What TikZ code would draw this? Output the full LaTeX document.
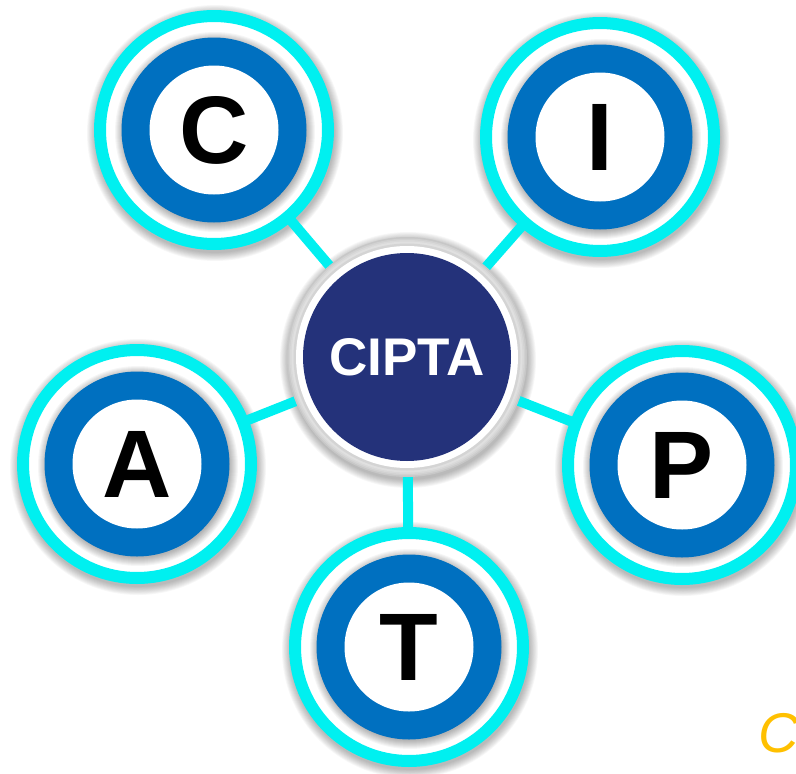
\documentclass[tikz,border=0pt]{standalone}
\usepackage{fontspec}
\setmainfont{Liberation Sans}
\definecolor{ringcyan}{RGB}{0,240,240}
\definecolor{discblue}{RGB}{0,112,192}
\definecolor{hubnavy}{RGB}{36,50,122}
\definecolor{cornergold}{RGB}{255,192,0}
\pgfdeclarelayer{shadowlayer}
\pgfdeclarelayer{lineslayer}
\pgfdeclarelayer{discslayer}
\pgfsetlayers{shadowlayer,lineslayer,discslayer,main}
\tikzset{
  letter/.style={circle, minimum size=240pt, inner sep=0pt, text=black,
    font=\bfseries\fontsize{96}{96}\selectfont},
  hubnode/.style={circle, minimum size=240pt, inner sep=0pt, text=white,
    font=\bfseries\fontsize{53}{53}\selectfont},
  conn/.style={draw=ringcyan, line width=10pt},
  softshade/.style={fill=black, opacity=0.03},
}
\newcommand\satnode[4]{%
  \node[letter] (#1) at (#2,#3) {#4};
  \begin{pgfonlayer}{shadowlayer}
    \foreach \k in {1,...,10}
      \fill[softshade] ([xshift=1pt,yshift=-3pt]#1.center) circle[radius={(119+\k*0.9)*1pt}];
  \end{pgfonlayer}
  \begin{pgfonlayer}{discslayer}
    \fill[white] (#1.center) circle[radius=114pt];
    \draw[ringcyan, line width=12pt] (#1.center) circle[radius=114pt];
    \foreach \k in {1,...,9}
      \fill[black, opacity=0.035] ([xshift=1pt,yshift=-2pt]#1.center) circle[radius={(91+\k*1.0)*1pt}];
    \fill[discblue] (#1.center) circle[radius=92.5pt];
    \fill[white] (#1.center) circle[radius=64.5pt];
  \end{pgfonlayer}
}
\begin{document}
\begin{tikzpicture}[x=1pt,y=-1pt]
\useasboundingbox (0,0) rectangle (796,774);
% hub
\node[hubnode] (hub) at (407,357) {CIPTA};
\begin{pgfonlayer}{shadowlayer}
  \foreach \k in {1,...,10}
    \fill[softshade] ([xshift=1pt,yshift=-3pt]hub.center) circle[radius={(119+\k*0.9)*1pt}];
\end{pgfonlayer}
\begin{pgfonlayer}{discslayer}
  \fill[black!22] (hub.center) circle[radius=120pt];
  \fill[black!18] (hub.center) circle[radius=118.5pt];
  \fill[black!15] (hub.center) circle[radius=117pt];
  \fill[black!12] (hub.center) circle[radius=115.5pt];
  \fill[black!17] (hub.center) circle[radius=113.5pt];
  \fill[white] (hub.center) circle[radius=111pt];
  \fill[hubnavy] (hub.center) circle[radius=104pt];
\end{pgfonlayer}
% satellites
\satnode{c}{214}{130}{C}
\satnode{i}{600}{137}{I}
\satnode{a}{137}{464}{A}
\satnode{p}{682}{465}{P}
\satnode{t}{409}{647}{T}
% connectors
\begin{pgfonlayer}{lineslayer}
  \foreach \n in {c,i,a,p,t}
    \draw[conn] (hub.center) -- (\n.center);
\end{pgfonlayer}
% corner letter
\node[anchor=base west, inner sep=0pt, text=cornergold,
  font=\itshape\fontsize{56}{56}\selectfont] (corner) at (758,752) {C};
\end{tikzpicture}
\end{document}
